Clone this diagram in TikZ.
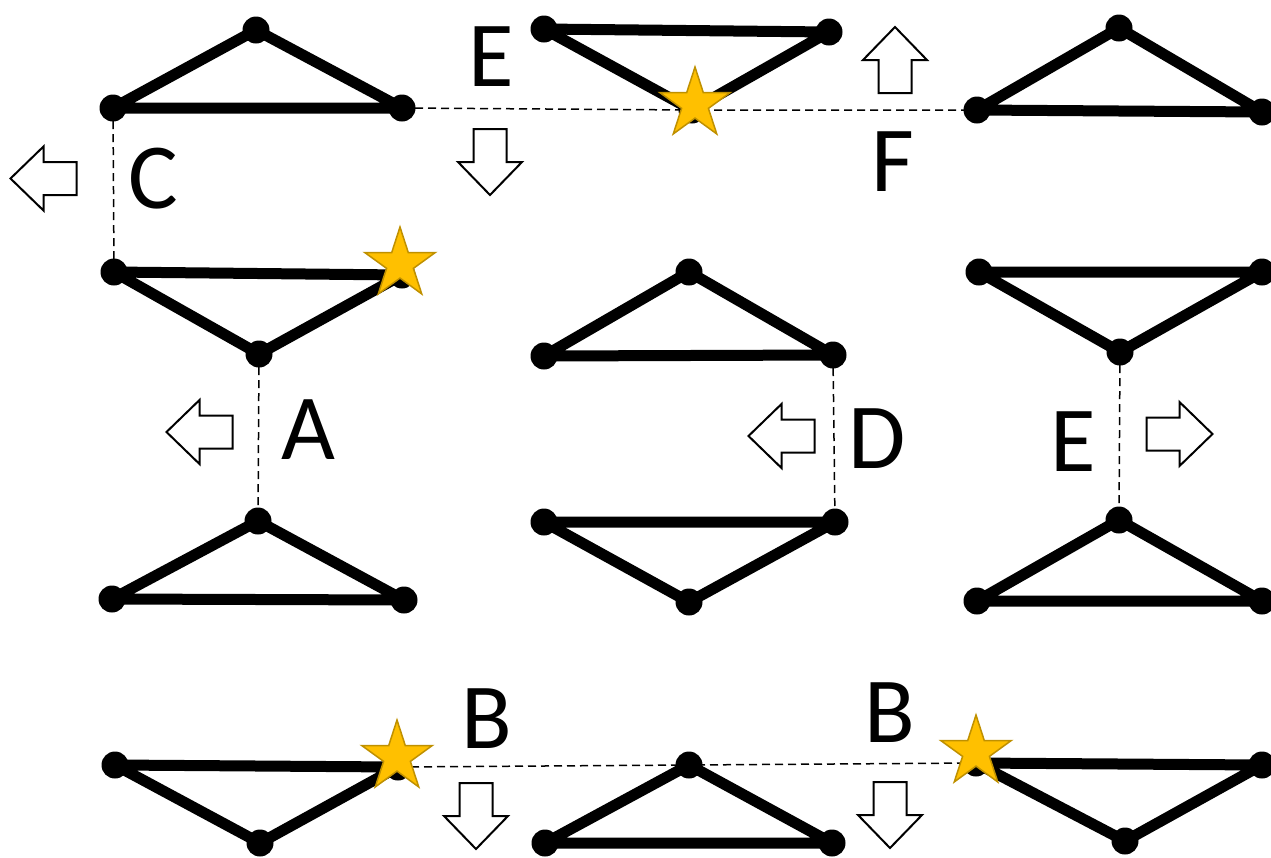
\documentclass[tikz,border=0pt]{standalone}
\usepackage{fontspec}
\setmainfont{Carlito}
\usetikzlibrary{calc}
\definecolor{starfill}{HTML}{FFC000}
\definecolor{stardraw}{HTML}{BF9000}
\tikzset{
  edge/.style={line width=2.2mm, line join=round, line cap=round},
  link/.style={line width=0.3mm, dash pattern=on 1.6mm off 1mm},
  lbl/.style={font=\fontsize{53}{60}\selectfont, inner sep=0pt},
  hollow/.style={draw=black, fill=white, line width=0.4mm, line join=miter},
  pics/blockarrow/.style={code={
    \draw[hollow] (-33,-16.5) -- (0,-16.5) -- (0,-32) -- (33,0) -- (0,32) -- (0,16.5) -- (-33,16.5) -- cycle;}},
  pics/goldstar/.style={code={
    \filldraw[fill=starfill, draw=stardraw, line width=0.3mm, line join=miter]
      (270:37) -- (306:14.1) -- (342:37) -- (18:14.1) -- (54:37) -- (90:14.1)
      -- (126:37) -- (162:14.1) -- (198:37) -- (234:14.1) -- cycle;}}
}
\newcommand\tri[4]{%
  \coordinate (#1a) at (#2); \coordinate (#1b) at (#3); \coordinate (#1c) at (#4);
  \draw[edge] (#1a) -- (#1b) -- (#1c) -- cycle;
  \foreach \v in {a,b,c} {\fill (#1\v) circle (13.5);}
}
\begin{document}
\begin{tikzpicture}[x=0.2mm,y=-0.2mm]
\useasboundingbox (0,0) rectangle (1271,858);
% triangles
\tri{tA}{256,30}{113,108}{402,108}
\tri{tB}{544,29}{829,32}{692,110}
\tri{tC}{1119,28}{977,110}{1262,112}
\tri{tD}{114,272}{402,275}{259,354}
\tri{tE}{689,272}{544,356}{833,355}
\tri{tF}{979,272}{1262,272}{1120,352}
\tri{tG}{258,521}{112,599}{404,600}
\tri{tH}{544,522}{835,522}{689,602}
\tri{tI}{1119,520}{977,601}{1262,601}
\tri{tJ}{115,765}{398,767}{260,843}
\tri{tK}{689,765}{545,843}{832,843}
\tri{tL}{976,763}{1262,765}{1125,841}
% dashed connectors
\draw[link] (tAb) -- (tDa);
\draw[link] (tAc) -- (tBc) -- (tCb);
\draw[link] (tDc) -- (tGa);
\draw[link] (tEc) -- (tHb);
\draw[link] (tFc) -- (tIa);
\draw[link] (tJb) -- (tKa) -- (tLa);
% stars
\pic (s1) at (695,104) {goldstar};
\pic (s2) at (400,264) {goldstar};
\pic (s3) at (397,757) {goldstar};
\pic (s4) at (976,752) {goldstar};
% hollow arrows
\pic[rotate=180] (a1) at (43.5,178.5) {blockarrow};
\pic[rotate=-90] (a2) at (490,162) {blockarrow};
\pic[rotate=90] (a3) at (895,60) {blockarrow};
\pic[rotate=180] (a4) at (199.5,432) {blockarrow};
\pic[rotate=180] (a5) at (781.5,436) {blockarrow};
\pic (a6) at (1179.5,434) {blockarrow};
\pic[rotate=-90] (a7) at (476,816) {blockarrow};
\pic[rotate=-90] (a8) at (890,815) {blockarrow};
% labels
\node[lbl] (lE1) at (491,57) {E};
\node[lbl] (lC) at (153,179) {C};
\node[lbl] (lF) at (893,162) {F};
\node[lbl] (lA) at (308,430) {A};
\node[lbl] (lD) at (877,439) {D};
\node[lbl] (lE2) at (1073,442) {E};
\node[lbl] (lB1) at (487,719) {B};
\node[lbl] (lB2) at (890,713) {B};
\end{tikzpicture}
\end{document}
